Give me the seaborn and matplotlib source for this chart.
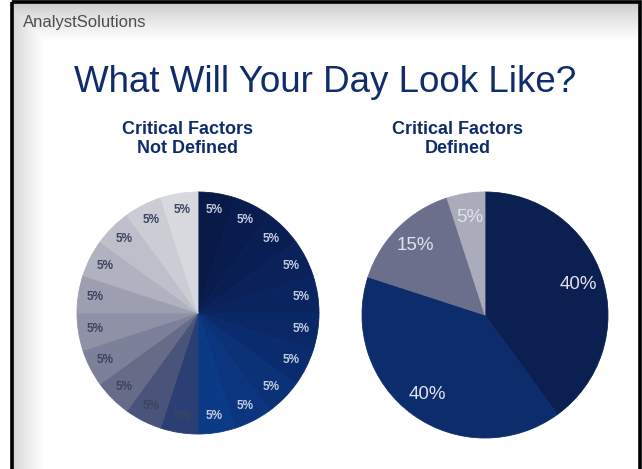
import numpy as np
import matplotlib
matplotlib.use("Agg")
import matplotlib.pyplot as plt
from matplotlib.patches import Rectangle
import seaborn as sns

sns.set_theme(style="white")
plt.rcParams["font.family"] = ["Liberation Sans", "DejaVu Sans"]

# --- data -------------------------------------------------------------
undefined_shares = [5] * 20                 # Critical Factors Not Defined
undefined_labels = ["5%"] * 20
defined_shares = [40, 40, 15, 5]            # Critical Factors Defined
defined_labels = ["40%", "40%", "15%", "5%"]

title_text = "What Will Your Day Look Like?"
left_heading = "Critical Factors\nNot Defined"
right_heading = "Critical Factors\nDefined"
brand_text = "AnalystSolutions"

NAVY = "#0f2c6b"

W, H = 642, 469
fig = plt.figure(figsize=(W / 100, H / 100), dpi=100)

# --- slide background: grey header band and soft left edge -------------
bg = fig.add_axes([0, 0, 1, 1], zorder=0)
bg.set_axis_off()
yy, xx = np.mgrid[0:H, 0:W].astype(float)
shade = np.ones((H, W))
top = np.clip((yy - 4) / 36.0, 0, 1)
shade = np.minimum(shade, 0.80 + 0.20 * top ** 0.8)
left = np.clip((xx - 14) / 30.0, 0, 1)
shade = np.minimum(shade, 0.85 + 0.15 * left ** 0.9)
shade[:, :11] = 1.0
img = np.dstack([shade, shade, shade])
bg.imshow(img, extent=[0, W, H, 0], aspect="auto", interpolation="bilinear")
bg.set_xlim(0, W)
bg.set_ylim(H, 0)
# black slide frame
bg.add_patch(Rectangle((12, 2.5), 627.5, H + 10, fill=False,
                       edgecolor="black", linewidth=2.6, zorder=3))

# --- texts ------------------------------------------------------------
fig.text(23 / W, 1 - 27 / H, brand_text, fontsize=12, color="#4d4d4d",
         ha="left", va="baseline")
fig.text(325 / W, 1 - 92 / H, title_text, fontsize=26.5, color=NAVY,
         ha="center", va="baseline")
fig.text(188 / W, 1 - 139 / H, left_heading, fontsize=13, color=NAVY,
         fontweight="bold", ha="center", va="center", linespacing=1.1)
fig.text(458 / W, 1 - 139 / H, right_heading, fontsize=13, color=NAVY,
         fontweight="bold", ha="center", va="center", linespacing=1.1)


def pie_axes(cx, cy, r):
    return fig.add_axes([(cx - r) / W, 1 - (cy + r) / H, 2 * r / W, 2 * r / H],
                        zorder=2)


def seal_edges(wedges):
    # outline each wedge in its own fill so no seams show between slices
    for w in wedges:
        w.set_edgecolor(w.get_facecolor())
        w.set_linewidth(0.6)


# --- left pie: twenty equal slices ------------------------------------
right_half = sns.blend_palette(["#091a48", "#0a2562", "#0b3a86"], 10)
left_half = ["#2c3f74", "#4a5379", "#666b88", "#7c8098", "#8f92a6",
             "#9d9fb1", "#b1b2bf", "#bebfca", "#cbccd4", "#d8d9df"]
left_colors = list(right_half) + left_half
ax1 = pie_axes(198, 313, 121)
wedges, texts = ax1.pie(undefined_shares, labels=undefined_labels,
                        colors=left_colors, startangle=90, counterclock=False,
                        labeldistance=0.86,
                        textprops=dict(fontsize=8.5, fontweight="bold",
                                       ha="center", va="center"))
seal_edges(wedges)
for i, t in enumerate(texts):
    t.set_color("#c3cce2" if i < 10 else "#3b4461")
ax1.set_xlim(-1, 1)
ax1.set_ylim(-1, 1)
ax1.set_axis_off()

# --- right pie ----------------------------------------------------------
right_colors = ["#0b1f50", "#0d2c6c", "#6c6f8c", "#aaabbb"]
ax2 = pie_axes(485, 315, 123)
wedges2, texts2 = ax2.pie(defined_shares, labels=defined_labels,
                          colors=right_colors, startangle=90, counterclock=False,
                          labeldistance=0.8,
                          textprops=dict(fontsize=13.5, ha="center", va="center"))
seal_edges(wedges2)
for t in texts2:
    t.set_color("#dfe3ee")
ax2.set_xlim(-1, 1)
ax2.set_ylim(-1, 1)
ax2.set_axis_off()

fig.savefig("out.png", dpi=100)
